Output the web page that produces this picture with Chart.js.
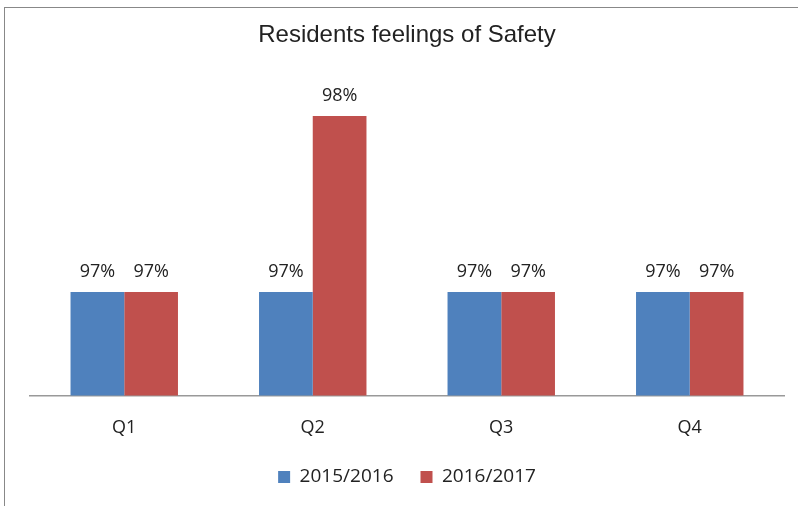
<!DOCTYPE html>
<html>
<head>
<meta charset="utf-8">
<script src="https://cdn.jsdelivr.net/npm/chart.js@4.4.1/dist/chart.umd.min.js"></script>
<style>
    body { margin: 0; background: #fff; }
    #frame { position: absolute; left: 4px; top: 7px; width: 794px; height: 499px; border-top: 1px solid #888; border-left: 1px solid #888; }
    #wrap { position: absolute; left: 0; top: 0; width: 798px; height: 506px; }
</style>
</head>
<body>
<div id="frame"></div>
<div id="wrap"><canvas id="safetyChart" width="798" height="506"></canvas></div>
<script>
// Dữ liệu biểu đồ
const quarters = ['Q1', 'Q2', 'Q3', 'Q4'];
const seriesNames = ['2015/2016', '2016/2017'];
const values2015 = [97, 97, 97, 97];
const values2016 = [97, 98, 97, 97];
const seriesColors = ['#4F81BD', '#C0504D'];

// Nhãn giá trị phía trên cột
const valueLabels = {
    id: 'valueLabels',
    afterDatasetsDraw(chart) {
        const ctx = chart.ctx;
        ctx.save();
        ctx.font = '18px "Open Sans"';
        ctx.fillStyle = '#222';
        ctx.textAlign = 'center';
        ctx.textBaseline = 'middle';
        chart.data.datasets.forEach((ds, i) => {
            chart.getDatasetMeta(i).data.forEach((bar, j) => {
                ctx.fillText(Math.round(ds.data[j]) + '%', bar.x, bar.y - 20);
            });
        });
        ctx.restore();
    }
};

// Chú thích: thu gọn chiều cao và dời lên trên một chút
const legendShift = {
    id: 'legendShift',
    afterInit(chart) {
        const lg = chart.legend;
        const origFit = lg.fit;
        lg.fit = function() {
            origFit.call(this);
            this.height -= 3;
        };
    },
    afterLayout(chart) {
        const lg = chart.legend;
        lg.top -= 12.6;
        lg.bottom -= 12.6;
    }
};

const ctx = document.getElementById('safetyChart').getContext('2d');
const safetyChart = new Chart(ctx, {
    type: 'bar',
    data: {
        labels: quarters,
        datasets: [
            { label: seriesNames[0], data: values2015, backgroundColor: seriesColors[0] },
            { label: seriesNames[1], data: values2016, backgroundColor: seriesColors[1] }
        ]
    },
    options: {
        responsive: false,
        animation: false,
        layout: { padding: { left: 30, right: 14, top: 0, bottom: 0 } },
        datasets: {
            bar: { barPercentage: 1, categoryPercentage: 0.57, borderWidth: 0 }
        },
        scales: {
            x: {
                grid: { display: false },
                border: { display: true, color: '#999', width: 1.5 },
                ticks: { color: '#222', font: { family: 'Open Sans', size: 18 }, padding: 14 }
            },
            y: {
                display: false,
                min: 96.412,
                max: 98.265
            }
        },
        plugins: {
            title: {
                display: true,
                text: 'Residents feelings of Safety',
                color: '#222',
                font: { family: 'Liberation Sans', size: 24, weight: 'normal' },
                padding: { top: 20.6, bottom: 20 }
            },
            legend: {
                position: 'bottom',
                labels: {
                    color: '#222',
                    boxWidth: 12,
                    boxHeight: 12,
                    padding: 27,
                    font: { family: 'Open Sans', size: 19 }
                }
            },
            tooltip: { enabled: false }
        }
    },
    plugins: [valueLabels, legendShift]
});
</script>
</body>
</html>
